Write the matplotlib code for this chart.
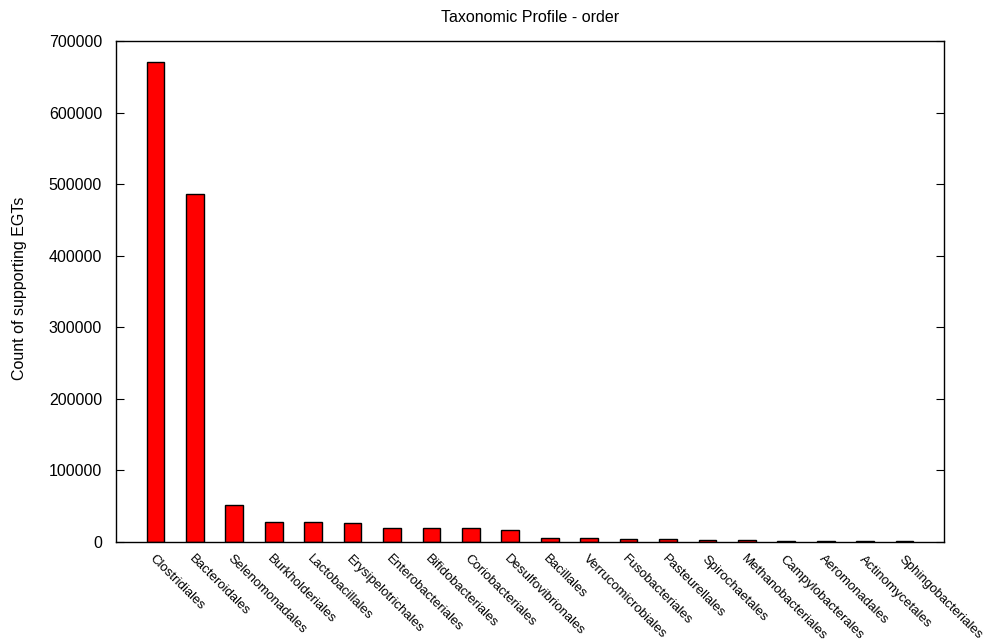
import matplotlib
matplotlib.use("Agg")
import matplotlib.pyplot as plt
import numpy as np

plt.rcParams['font.family'] = ['Liberation Sans', 'DejaVu Sans']

orders = ['Clostridiales', 'Bacteroidales', 'Selenomonadales', 'Burkholderiales',
          'Lactobacillales', 'Erysipelotrichales', 'Enterobacteriales',
          'Bifidobacteriales', 'Coriobacteriales', 'Desulfovibrionales',
          'Bacillales', 'Verrucomicrobiales', 'Fusobacteriales', 'Pasteurellales',
          'Spirochaetales', 'Methanobacteriales', 'Campylobacterales',
          'Aeromonadales', 'Actinomycetales', 'Sphingobacteriales']
counts = [670500, 486500, 51500, 28000, 28000, 26500, 20000, 20000, 20000, 16800,
          5200, 5000, 4500, 3800, 2300, 2200, 1800, 1700, 1300, 1000]
yticks = [0, 100000, 200000, 300000, 400000, 500000, 600000, 700000]

fig = plt.figure(figsize=(9.92, 6.43), dpi=100)
ax = fig.add_axes([116 / 992, 1 - 542 / 643, (944 - 116) / 992, (542 - 41) / 643])

x = np.arange(len(orders))
ax.bar(x, counts, width=0.45, color='#ff0000', edgecolor='black', linewidth=1.0)

ax.set_xlim(-1, len(orders))
ax.set_ylim(0, 700000)
ax.set_yticks(yticks)
ax.set_yticklabels([str(v) for v in yticks], fontsize=11.5)
ax.set_xticks(x)
ax.set_xticklabels(orders, fontsize=9.5, rotation=-45, ha='left', va='top',
                   rotation_mode='anchor')
ax.tick_params(axis='y', direction='in', length=6, right=True, pad=10)
ax.tick_params(axis='x', direction='in', length=0, pad=8)
for s in ax.spines.values():
    s.set_linewidth(1.0)

fig.text(20 / 992, 1 - 288 / 643, 'Count of supporting EGTs', fontsize=11.5,
         rotation=90, ha='center', va='center')
fig.text(530 / 992, 1 - 17 / 643, 'Taxonomic Profile - order', fontsize=11.5,
         ha='center', va='center')

fig.savefig('out.png', dpi=100)
